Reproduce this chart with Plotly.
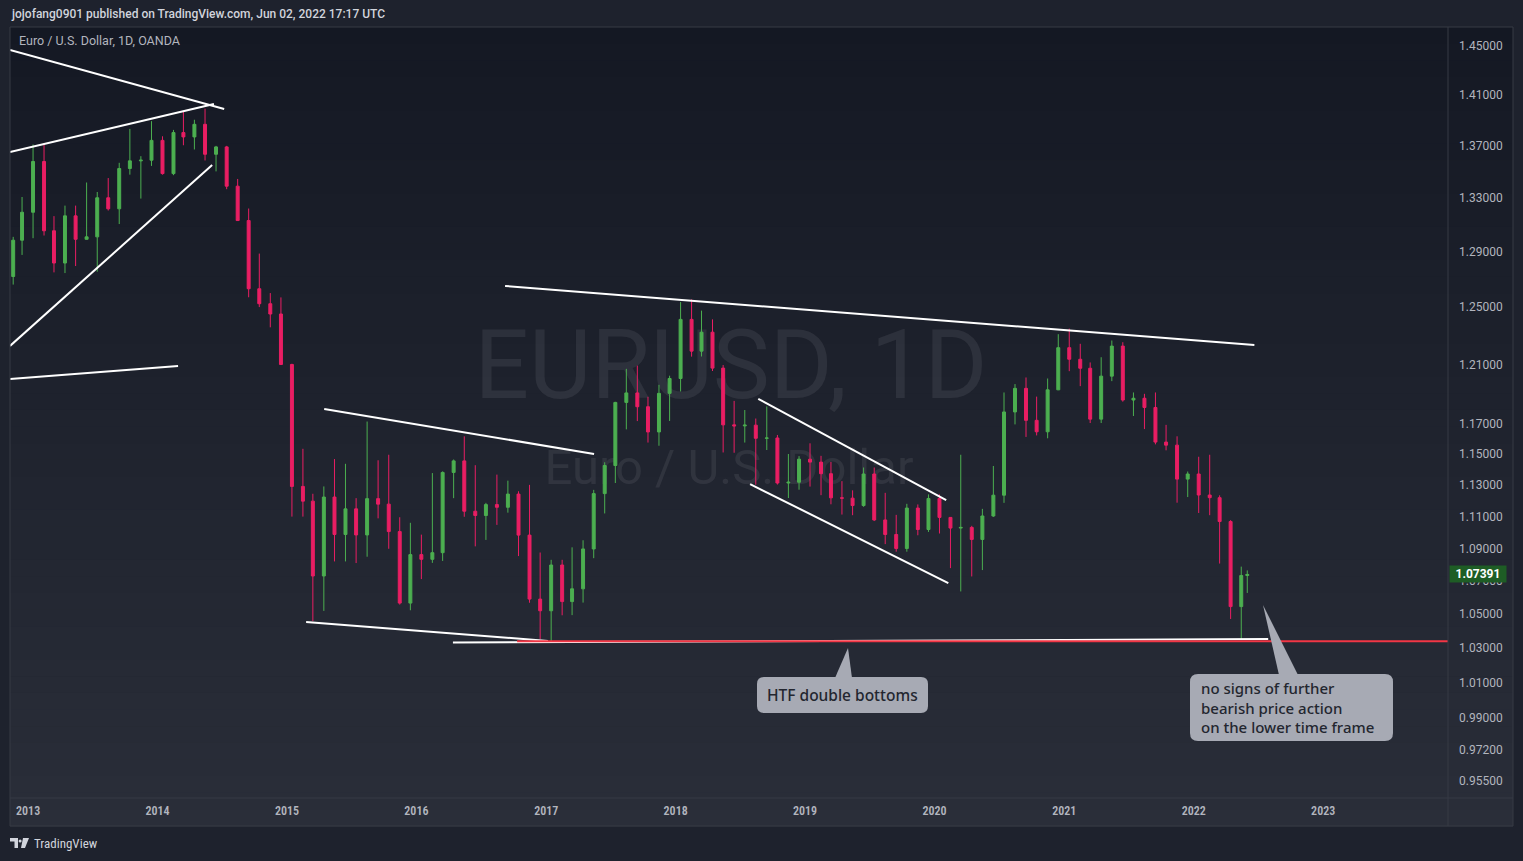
import numpy as np
import plotly.graph_objects as go

# ---------------- data (monthly OHLC) ----------------
months = [
    "2012-11-20", "2012-12-15",
    "2013-01-15", "2013-02-15", "2013-03-15", "2013-04-15", "2013-05-15", "2013-06-15",
    "2013-07-15", "2013-08-15", "2013-09-15", "2013-10-15", "2013-11-15", "2013-12-15",
    "2014-01-15", "2014-02-15", "2014-03-15", "2014-04-15", "2014-05-15", "2014-06-15",
    "2014-07-15", "2014-08-15", "2014-09-15", "2014-10-15", "2014-11-15", "2014-12-15",
    "2015-01-15", "2015-02-15", "2015-03-15", "2015-04-15", "2015-05-15", "2015-06-15",
    "2015-07-15", "2015-08-15", "2015-09-15", "2015-10-15", "2015-11-15", "2015-12-15",
    "2016-01-15", "2016-02-15", "2016-03-15", "2016-04-15", "2016-05-15", "2016-06-15",
    "2016-07-15", "2016-08-15", "2016-09-15", "2016-10-15", "2016-11-15", "2016-12-15",
    "2017-01-15", "2017-02-15", "2017-03-15", "2017-04-15", "2017-05-15", "2017-06-15",
    "2017-07-15", "2017-08-15", "2017-09-15", "2017-10-15", "2017-11-15", "2017-12-15",
    "2018-01-15", "2018-02-15", "2018-03-15", "2018-04-15", "2018-05-15", "2018-06-15",
    "2018-07-15", "2018-08-15", "2018-09-15", "2018-10-15", "2018-11-15", "2018-12-15",
    "2019-01-15", "2019-02-15", "2019-03-15", "2019-04-15", "2019-05-15", "2019-06-15",
    "2019-07-15", "2019-08-15", "2019-09-15", "2019-10-15", "2019-11-15", "2019-12-15",
    "2020-01-15", "2020-02-15", "2020-03-15", "2020-04-15", "2020-05-15", "2020-06-15",
    "2020-07-15", "2020-08-15", "2020-09-15", "2020-10-15", "2020-11-15", "2020-12-15",
    "2021-01-15", "2021-02-15", "2021-03-15", "2021-04-15", "2021-05-15", "2021-06-15",
    "2021-07-15", "2021-08-15", "2021-09-15", "2021-10-15", "2021-11-15", "2021-12-15",
    "2022-01-15", "2022-02-15", "2022-03-15", "2022-04-15", "2022-05-15", "2022-06-01",
]
opens = [
    1.2720, 1.2985,
    1.3193, 1.3579, 1.3055, 1.2818, 1.3166, 1.2992, 1.3010, 1.3302, 1.3219, 1.3525, 1.3584, 1.3589,
    1.3743, 1.3486, 1.3804, 1.3770, 1.3869, 1.3635, 1.3692, 1.3390, 1.3131, 1.2632, 1.2525, 1.2452,
    1.2100, 1.1290, 1.1196, 1.0730, 1.1222, 1.0986, 1.1147, 1.0983, 1.1212, 1.1177, 1.1004, 1.0566,
    1.0861, 1.0832, 1.0873, 1.1380, 1.1455, 1.1132, 1.1105, 1.1174, 1.1157, 1.1241, 1.0982, 1.0590,
    1.0520, 1.0797, 1.0575, 1.0652, 1.0896, 1.1244, 1.1425, 1.1842, 1.1906, 1.1813, 1.1645, 1.1903,
    1.2004, 1.2414, 1.2192, 1.2324, 1.2075, 1.1692, 1.1685, 1.1690, 1.1603, 1.1605, 1.1312, 1.1317,
    1.1466, 1.1447, 1.1372, 1.1217, 1.1215, 1.1168, 1.1370, 1.1077, 1.0986, 1.0899, 1.1152, 1.1017,
    1.1213, 1.1093, 1.1026, 1.1030, 1.0955, 1.1102, 1.1234, 1.1778, 1.1937, 1.1722, 1.1646, 1.1927,
    1.2216, 1.2136, 1.2074, 1.1730, 1.2020, 1.2227, 1.1858, 1.1870, 1.1808, 1.1578, 1.1558, 1.1337,
    1.1370, 1.1235, 1.1218, 1.1067, 1.0545, 1.0733,
]
highs = [
    1.3010, 1.3308,
    1.3711, 1.3711, 1.3164, 1.3243, 1.3243, 1.3418, 1.3346, 1.3452, 1.3569, 1.3833, 1.3620, 1.3894,
    1.3775, 1.3825, 1.3967, 1.3905, 1.3993, 1.3700, 1.3700, 1.3445, 1.3221, 1.2887, 1.2601, 1.2570,
    1.2105, 1.1534, 1.1243, 1.1290, 1.1467, 1.1436, 1.1215, 1.1714, 1.1459, 1.1495, 1.1094, 1.1059,
    1.0985, 1.1376, 1.1387, 1.1464, 1.1616, 1.1427, 1.1185, 1.1366, 1.1327, 1.1259, 1.1300, 1.0874,
    1.0829, 1.0829, 1.0906, 1.0950, 1.1268, 1.1446, 1.1846, 1.2070, 1.2092, 1.1880, 1.1961, 1.2023,
    1.2537, 1.2556, 1.2476, 1.2414, 1.2096, 1.1852, 1.1791, 1.1734, 1.1815, 1.1625, 1.1500, 1.1486,
    1.1570, 1.1488, 1.1448, 1.1324, 1.1265, 1.1412, 1.1412, 1.1249, 1.1109, 1.1179, 1.1175, 1.1239,
    1.1239, 1.1095, 1.1495, 1.1040, 1.1147, 1.1422, 1.1909, 1.1966, 1.2011, 1.1881, 1.2004, 1.2310,
    1.2349, 1.2243, 1.2114, 1.2150, 1.2266, 1.2254, 1.1909, 1.1900, 1.1909, 1.1692, 1.1616, 1.1386,
    1.1482, 1.1495, 1.1233, 1.1076, 1.0787, 1.0764,
]
lows = [
    1.2662, 1.2877,
    1.3000, 1.3020, 1.2750, 1.2745, 1.2796, 1.2990, 1.2755, 1.3206, 1.3105, 1.3478, 1.3296, 1.3545,
    1.3478, 1.3474, 1.3705, 1.3672, 1.3587, 1.3503, 1.3367, 1.3133, 1.2571, 1.2501, 1.2358, 1.2100,
    1.1098, 1.1098, 1.0458, 1.0519, 1.0819, 1.0819, 1.0809, 1.0848, 1.1087, 1.0897, 1.0557, 1.0523,
    1.0711, 1.0810, 1.0822, 1.1215, 1.1097, 1.0912, 1.0952, 1.1046, 1.1123, 1.0852, 1.0568, 1.0352,
    1.0340, 1.0493, 1.0494, 1.0569, 1.0839, 1.1118, 1.1312, 1.1662, 1.1717, 1.1575, 1.1554, 1.1718,
    1.1916, 1.2154, 1.2155, 1.2055, 1.1510, 1.1508, 1.1575, 1.1301, 1.1526, 1.1302, 1.1216, 1.1269,
    1.1289, 1.1234, 1.1176, 1.1111, 1.1107, 1.1160, 1.1070, 1.0926, 1.0879, 1.0879, 1.0981, 1.1002,
    1.0992, 1.0778, 1.0636, 1.0727, 1.0766, 1.1096, 1.1185, 1.1695, 1.1612, 1.1622, 1.1603, 1.1925,
    1.2054, 1.1952, 1.1704, 1.1704, 1.1986, 1.1847, 1.1751, 1.1664, 1.1563, 1.1524, 1.1186, 1.1222,
    1.1121, 1.1107, 1.0806, 1.0471, 1.0349, 1.0627,
]
closes = [
    1.2985, 1.3193,
    1.3579, 1.3055, 1.2818, 1.3166, 1.2992, 1.3010, 1.3302, 1.3219, 1.3525, 1.3584, 1.3589, 1.3743,
    1.3486, 1.3804, 1.3770, 1.3869, 1.3635, 1.3692, 1.3390, 1.3131, 1.2632, 1.2525, 1.2452, 1.2100,
    1.1290, 1.1196, 1.0730, 1.1222, 1.0986, 1.1147, 1.0983, 1.1212, 1.1177, 1.1004, 1.0566, 1.0861,
    1.0832, 1.0873, 1.1380, 1.1455, 1.1132, 1.1105, 1.1174, 1.1157, 1.1241, 1.0982, 1.0590, 1.0520,
    1.0797, 1.0575, 1.0652, 1.0896, 1.1244, 1.1425, 1.1842, 1.1906, 1.1813, 1.1645, 1.1903, 1.2004,
    1.2414, 1.2192, 1.2324, 1.2075, 1.1692, 1.1685, 1.1690, 1.1603, 1.1605, 1.1312, 1.1317, 1.1466,
    1.1447, 1.1372, 1.1217, 1.1215, 1.1168, 1.1370, 1.1077, 1.0986, 1.0899, 1.1152, 1.1017, 1.1213,
    1.1093, 1.1026, 1.1030, 1.0955, 1.1102, 1.1234, 1.1778, 1.1937, 1.1722, 1.1646, 1.1927, 1.2216,
    1.2136, 1.2074, 1.1730, 1.2020, 1.2227, 1.1858, 1.1870, 1.1808, 1.1578, 1.1558, 1.1337, 1.1370,
    1.1235, 1.1218, 1.1067, 1.0545, 1.0733, 1.07391,
]

last_price = 1.07391

# trend lines drawn on the chart (start/end date, start/end price)
trend_x0 = ["2012-11-11", "2012-11-11", "2012-11-11", "2012-11-11", "2015-04-16",
            "2015-02-24", "2016-04-13", "2016-09-07", "2018-08-22", "2018-07-30"]
trend_y0 = [1.4467, 1.3653, 1.2228, 1.2000, 1.1798, 1.0453, 1.0332, 1.2652, 1.1866, 1.1305]
trend_x1 = ["2014-07-08", "2014-06-09", "2014-06-04", "2014-02-28", "2017-05-16",
            "2017-01-06", "2022-07-30", "2022-06-21", "2020-02-03", "2020-02-09"]
trend_y1 = [1.3990, 1.4030, 1.3552, 1.2089, 1.1500, 1.0341, 1.0352, 1.2234, 1.1203, 1.0687]

support_x = ["2016-10-11", "2024-06-01"]
support_price = 1.0340

year_ticks = [f"{y}-01-01" for y in range(2013, 2024)]
year_labels = [str(y) for y in range(2013, 2024)]
price_ticks = [1.45, 1.41, 1.37, 1.33, 1.29, 1.25, 1.21, 1.17, 1.15, 1.13, 1.11,
               1.09, 1.07, 1.05, 1.03, 1.01, 0.99, 0.972, 0.955]
price_labels = [f"{v:.5f}" for v in price_ticks]

# ---------------- layout geometry ----------------
W, H = 1523, 861
PL, PR, PT, PB = 10, 1448, 28, 798
x_range = ["2012-11-11", "2023-12-19"]
y_range = [0.94583, 1.46491]


def fx(px):
    return (px - PL) / (PR - PL)


def fy(py):
    return (PB - py) / (PB - PT)


GREEN = "#4caf50"
RED = "#e91e63"
TXT = "#b2b5be"

fig = go.Figure()

# watermark on the base (bottom) subplot so it sits beneath the candles
fig.add_trace(go.Scatter(
    x=[fx(731)], y=[fy(374)], mode="text", text=["EURUSD, 1D"],
    textfont=dict(family="Roboto", size=96, color="rgba(178,181,190,0.11)"),
    textposition="middle center", hoverinfo="skip", xaxis="x", yaxis="y"))
fig.add_trace(go.Scatter(
    x=[fx(729)], y=[fy(472)], mode="text", text=["Euro / U.S. Dollar"],
    textfont=dict(family="Roboto", size=49, color="rgba(178,181,190,0.11)"),
    textposition="middle center", hoverinfo="skip", xaxis="x", yaxis="y"))

fig.add_trace(go.Candlestick(
    x=months, open=opens, high=highs, low=lows, close=closes,
    increasing=dict(line=dict(color=GREEN, width=1), fillcolor=GREEN),
    decreasing=dict(line=dict(color=RED, width=1), fillcolor=RED),
    whiskerwidth=0, xaxis="x2", yaxis="y2", hoverinfo="skip"))

for xa, ya, xb, yb in zip(trend_x0, trend_y0, trend_x1, trend_y1):
    fig.add_trace(go.Scatter(x=[xa, xb], y=[ya, yb], mode="lines",
                             line=dict(color="#ffffff", width=2),
                             hoverinfo="skip", xaxis="x2", yaxis="y2"))

fig.add_trace(go.Scatter(x=support_x, y=[support_price, support_price], mode="lines",
                         line=dict(color="#f23645", width=2),
                         hoverinfo="skip", xaxis="x2", yaxis="y2"))

shapes = []
# gradient background for the chart panel
top_c = np.array([20, 24, 35])
bot_c = np.array([42, 46, 57])
n = 48
y_top, y_bot = 27, 826
for i in range(n):
    a = y_top + i * (y_bot - y_top) / n
    b = y_top + (i + 1) * (y_bot - y_top) / n
    t = (i + 0.5) / n
    c = (top_c + (bot_c - top_c) * t).round().astype(int)
    shapes.append(dict(type="rect", xref="paper", yref="paper", layer="below",
                       x0=fx(10), x1=fx(1513), y0=fy(b + 0.6), y1=fy(a),
                       fillcolor=f"rgb({c[0]},{c[1]},{c[2]})", line=dict(width=0)))

# panel borders
BC = "#363a45"
for (xa, ya, xb, yb) in [(10, 27, 1513, 27), (10, 826, 1513, 826), (10, 27, 10, 826),
                         (1513, 27, 1513, 826), (1448, 27, 1448, 826), (10, 798, 1513, 798)]:
    shapes.append(dict(type="line", xref="paper", yref="paper", layer="above",
                       x0=fx(xa), y0=fy(ya), x1=fx(xb), y1=fy(yb),
                       line=dict(color=BC, width=1)))


def P(px, py):
    return f"{fx(px):.6f},{fy(py):.6f}"


def rrect(x0, y0, x1, y1, r):
    return (f"M{P(x0 + r, y0)} L{P(x1 - r, y0)} Q{P(x1, y0)} {P(x1, y0 + r)} "
            f"L{P(x1, y1 - r)} Q{P(x1, y1)} {P(x1 - r, y1)} L{P(x0 + r, y1)} "
            f"Q{P(x0, y1)} {P(x0, y1 - r)} L{P(x0, y0 + r)} Q{P(x0, y0)} {P(x0 + r, y0)} Z")


CALL = "#a7aab4"
for path in [rrect(757, 677, 928, 713, 7),
             f"M{P(835, 678)} L{P(848, 648)} L{P(852, 678)} Z",
             rrect(1190, 674, 1393, 741, 8),
             f"M{P(1279, 675)} L{P(1263, 605)} L{P(1298, 675)} Z"]:
    shapes.append(dict(type="path", xref="paper", yref="paper", layer="above",
                       path=path, fillcolor=CALL, line=dict(width=0)))

# TradingView logo (small glyph)
LOGO = "#d1d4dc"
for path in [f"M{P(10, 838)} L{P(18, 838)} L{P(18, 848)} L{P(14.5, 848)} L{P(14.5, 841.5)} L{P(10, 841.5)} Z",
             f"M{P(23, 838)} L{P(29, 838)} L{P(25, 848)} L{P(21, 848)} Z"]:
    shapes.append(dict(type="path", xref="paper", yref="paper", layer="above",
                       path=path, fillcolor=LOGO, line=dict(width=0)))
shapes.append(dict(type="circle", xref="paper", yref="paper", layer="above",
                   x0=fx(18.6), x1=fx(21.6), y0=fy(842.5), y1=fy(839.5),
                   fillcolor=LOGO, line=dict(width=0)))

CALL_TXT = "#23262f"
annotations = [
    dict(text="jojofang0901 published on TradingView.com, Jun 02, 2022 17:17 UTC",
         x=fx(9), y=fy(14), xanchor="left", yanchor="middle",
         font=dict(family="Roboto", size=12, color="#d1d4dc", weight=500)),
    dict(text="Euro / U.S. Dollar, 1D, OANDA", x=fx(17), y=fy(41),
         xanchor="left", yanchor="middle",
         font=dict(family="Roboto", size=12.5, color=TXT)),
    dict(text="TradingView", x=fx(32), y=fy(843), xanchor="left", yanchor="middle",
         font=dict(family="Roboto Condensed, Roboto", size=13, color="#d1d4dc")),
    dict(text="HTF double bottoms", x=fx(842.5), y=fy(695), xanchor="center", yanchor="middle",
         font=dict(family="Noto Sans", size=15.5, color=CALL_TXT, weight=500)),
    dict(text="no signs of further<br>bearish price action<br>on the lower time frame",
         x=fx(1199), y=fy(707), xanchor="left", yanchor="middle", align="left",
         font=dict(family="Noto Sans", size=15, color=CALL_TXT, weight=500)),
]
for a in annotations:
    a.update(xref="paper", yref="paper", showarrow=False)

annotations.append(dict(
    text="<b>1.07391</b>", xref="paper", yref="y2", x=fx(1449), y=float(np.log10(last_price)),
    xanchor="left", yanchor="middle", showarrow=False, bgcolor="#1e5d25", borderpad=1,
    font=dict(family="Roboto", size=12, color="#ffffff"), width=54))

fig.update_layout(
    width=W, height=H,
    margin=dict(l=PL, r=W - PR, t=PT, b=H - PB),
    paper_bgcolor="#1e222d", plot_bgcolor="rgba(0,0,0,0)",
    showlegend=False, hovermode=False,
    shapes=shapes, annotations=annotations,
    xaxis=dict(range=[0, 1], visible=False, fixedrange=True),
    yaxis=dict(range=[0, 1], visible=False, fixedrange=True),
    xaxis2=dict(overlaying="x", anchor="y2", type="date", range=x_range,
                tickmode="array", tickvals=year_ticks, ticktext=year_labels,
                showgrid=False, zeroline=False, showline=False, ticks="",
                ticklabelstandoff=4,
                tickfont=dict(family="Roboto Condensed, Roboto", size=12, color=TXT, weight=600),
                rangeslider=dict(visible=False), fixedrange=True),
    yaxis2=dict(overlaying="y", anchor="x2", side="right", type="log",
                range=[float(np.log10(y_range[0])), float(np.log10(y_range[1]))],
                tickmode="array", tickvals=price_ticks, ticktext=price_labels,
                showgrid=False, zeroline=False, showline=False, ticks="",
                ticklabelstandoff=10,
                tickfont=dict(family="Roboto", size=12, color=TXT), fixedrange=True),
)

fig.write_html("out.html", config={"displayModeBar": False})

# remove the browser's default page margin so the figure sits at the window origin
with open("out.html", "r", encoding="utf-8") as f:
    html = f.read()
html = html.replace("<body>", '<body style="margin:0;padding:0;overflow:hidden;background:#1e222d">', 1)
with open("out.html", "w", encoding="utf-8") as f:
    f.write(html)
